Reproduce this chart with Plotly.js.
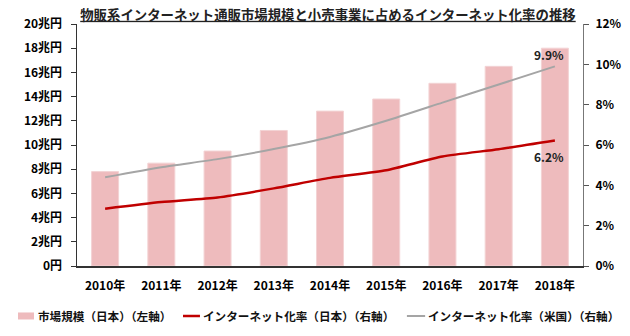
<!DOCTYPE html>
<html><head><meta charset="utf-8">
<script src="https://cdn.plot.ly/plotly-3.0.1.min.js"></script>
<style>html,body{margin:0;padding:0;background:#fff}#c{width:630px;height:336px}</style>
</head><body><div id="c"></div>
<script>
const years = ['2010年','2011年','2012年','2013年','2014年','2015年','2016年','2017年','2018年'];
const marketJP = [7.8, 8.5, 9.5, 11.2, 12.8, 13.8, 15.1, 16.5, 18.0];
const rateJP = [2.84, 3.17, 3.40, 3.85, 4.37, 4.75, 5.43, 5.79, 6.22];
const rateUS = [4.4, 4.9, 5.3, 5.8, 6.4, 7.2, 8.1, 9.0, 9.9];
const leftTicks = [0,2,4,6,8,10,12,14,16,18,20];
const leftLabels = ['0円','2兆円','4兆円','6兆円','8兆円','10兆円','12兆円','14兆円','16兆円','18兆円','20兆円'];
const rightTicks = [0,2,4,6,8,10,12];
const rightLabels = ['0%','2%','4%','6%','8%','10%','12%'];
const names = ['市場規模（日本）（左軸）','インターネット化率（日本）（右軸）','インターネット化率（米国）（右軸）'];

const F = '"Noto Sans CJK JP", "Noto Sans", sans-serif';
const last = years.length - 1;
const barColor = '#eebbbd', redColor = '#c00000', grayColor = '#a5a5a5';
const traces = [
  {type:'bar', x:years, y:marketJP, name:names[0], marker:{color:barColor, line:{color:'#f3d3d4', width:1}}, yaxis:'y', hoverinfo:'skip'},
  {type:'scatter', mode:'lines', x:years, y:rateJP, name:names[1], line:{color:redColor, width:2.5, shape:'spline', smoothing:0.6}, yaxis:'y2'},
  {type:'scatter', mode:'lines', x:years, y:rateUS, name:names[2], line:{color:grayColor, width:2, shape:'spline', smoothing:0.6}, yaxis:'y2'}
];
// custom legend (paper coordinates)
const legY = -0.2066;
const legFont = {family:F, size:11.6, weight:'bold', color:'#111'};
const shapes = [
  {type:'rect', xref:'paper', yref:'paper', x0:-0.1166, x1:-0.085, y0:-0.221, y1:-0.192, fillcolor:barColor, line:{width:0}},
  {type:'line', xref:'paper', yref:'paper', x0:0.2095, x1:0.243, y0:legY, y1:legY, line:{color:redColor, width:2.5}},
  {type:'line', xref:'paper', yref:'paper', x0:0.652, x1:0.688, y0:legY, y1:legY, line:{color:grayColor, width:2}}
];
const legAnn = [
  {xref:'paper', yref:'paper', x:-0.081, y:legY, xanchor:'left', yanchor:'middle', text:names[0], showarrow:false, font:legFont},
  {xref:'paper', yref:'paper', x:0.245, y:legY, xanchor:'left', yanchor:'middle', text:names[1], showarrow:false, font:legFont},
  {xref:'paper', yref:'paper', x:0.690, y:legY, xanchor:'left', yanchor:'middle', text:names[2], showarrow:false, font:legFont}
];
const layout = {
  width:630, height:336,
  margin:{l:77, r:47, t:24, b:70},
  paper_bgcolor:'#fff', plot_bgcolor:'#fff',
  font:{family:F, size:12, color:'#000'},
  title:{text:'<u>物販系インターネット通販市場規模と小売事業に占めるインターネット化率の推移</u>', font:{family:F, size:13.4, color:'#222', weight:'bold'}, xref:'paper', x:0.496, xanchor:'center', y:0.955, yanchor:'middle'},
  bargap:0.52,
  showlegend:false,
  xaxis:{type:'category', showline:true, linecolor:'#333', linewidth:1.5, ticks:'', tickfont:{family:F, size:12, weight:'bold'}, showgrid:false, fixedrange:true, ticklabelstandoff:8},
  yaxis:{range:[0,20], tickvals:leftTicks, ticktext:leftLabels, showline:true, linecolor:'#333', linewidth:1.5, ticks:'outside', ticklen:5, tickcolor:'#333', showgrid:false, zeroline:false, tickfont:{family:F, size:12, weight:'bold'}, ticklabelstandoff:6},
  yaxis2:{overlaying:'y', side:'right', range:[0,12], tickvals:rightTicks, ticktext:rightLabels, showline:true, linecolor:'#777', linewidth:1, ticks:'outside', ticklen:5, tickcolor:'#555', showgrid:false, zeroline:false, tickfont:{family:F, size:12, weight:'bold'}, ticklabelstandoff:4},
  shapes: shapes,
  annotations:[
    {x:years[last], y:rateUS[last], yref:'y2', text:rateUS[last].toFixed(1)+'%', showarrow:false, yshift:12, xshift:-6, font:{family:F, size:12, weight:'bold', color:'#222'}},
    {x:years[last], y:rateJP[last], yref:'y2', text:rateJP[last].toFixed(1)+'%', showarrow:false, yshift:-16, xshift:-6, font:{family:F, size:12, weight:'bold', color:'#222'}}
  ].concat(legAnn)
};
Plotly.newPlot('c', traces, layout, {staticPlot:true});
</script></body></html>
